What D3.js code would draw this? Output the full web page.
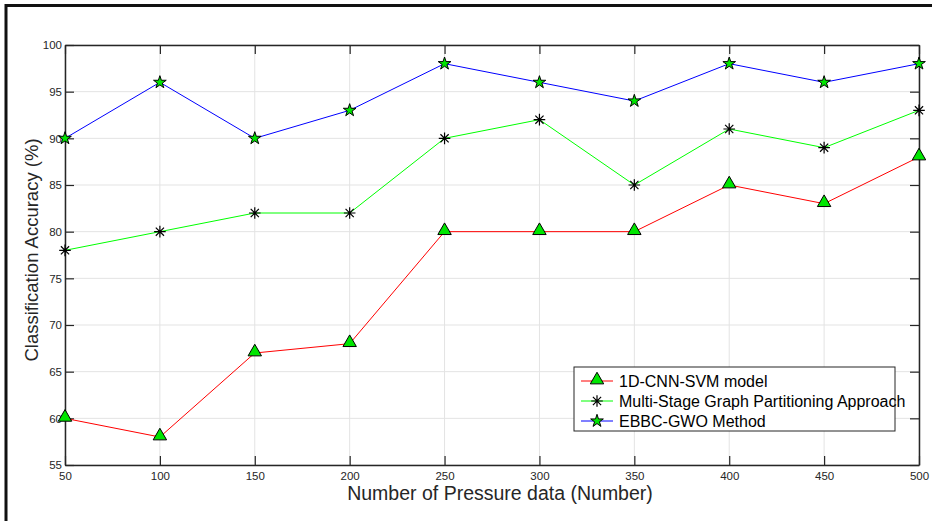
<!DOCTYPE html>
<html>
<head>
<meta charset="utf-8">
<script src="https://cdn.jsdelivr.net/npm/d3@7"></script>
<style>
  body { margin: 0; background: #fff; }
  text { font-family: "Liberation Sans", Arial, sans-serif; }
</style>
</head>
<body>
<script>
// data
var pressure = [50, 100, 150, 200, 250, 300, 350, 400, 450, 500];
var cnnSvm   = [60, 58, 67, 68, 80, 80, 80, 85, 83, 88];
var msgp     = [78, 80, 82, 82, 90, 92, 85, 91, 89, 93];
var ebbcGwo  = [90, 96, 90, 93, 98, 96, 94, 98, 96, 98];
var yTicks = [55, 60, 65, 70, 75, 80, 85, 90, 95, 100];
var seriesNames = ["1D-CNN-SVM model", "Multi-Stage Graph Partitioning Approach", "EBBC-GWO Method"];

var width = 932, height = 521;
var m = { left: 65, top: 45, right: 919, bottom: 465 };

var svg = d3.select('body').append('svg').attr('width', width).attr('height', height);
svg.append('rect').attr('width', width).attr('height', height).attr('fill', '#fff');

// picture frame (left + top)
svg.append('path').attr('d', 'M6,521 V5.5 H932').attr('fill', 'none').attr('stroke', '#111').attr('stroke-width', 3);

var x = d3.scaleLinear().domain([50, 500]).range([m.left, m.right]);
var y = d3.scaleLinear().domain([55, 100]).range([m.bottom, m.top]);

// grid
var g = svg.append('g');
g.selectAll('.gx').data(pressure).enter().append('line')
  .attr('x1', d => x(d)).attr('x2', d => x(d)).attr('y1', m.top).attr('y2', m.bottom)
  .attr('stroke', '#e3e3e3').attr('stroke-width', 1);
g.selectAll('.gy').data(yTicks).enter().append('line')
  .attr('y1', d => y(d)).attr('y2', d => y(d)).attr('x1', m.left).attr('x2', m.right)
  .attr('stroke', '#e3e3e3').attr('stroke-width', 1);

// axes (ticks inward, on all four sides)
var axB = svg.append('g').attr('transform', 'translate(0,' + m.bottom + ')')
  .call(d3.axisBottom(x).tickValues(pressure).tickSizeInner(-9).tickSizeOuter(0).tickPadding(7));
var axT = svg.append('g').attr('transform', 'translate(0,' + m.top + ')')
  .call(d3.axisTop(x).tickValues(pressure).tickSizeInner(-9).tickSizeOuter(0).tickFormat(''));
var axL = svg.append('g').attr('transform', 'translate(' + m.left + ',0)')
  .call(d3.axisLeft(y).tickValues(yTicks).tickSizeInner(-9).tickSizeOuter(0).tickPadding(3));
var axR = svg.append('g').attr('transform', 'translate(' + m.right + ',0)')
  .call(d3.axisRight(y).tickValues(yTicks).tickSizeInner(-9).tickSizeOuter(0).tickFormat(''));
[axB, axT, axL, axR].forEach(function(a) {
  a.select('.domain').attr('stroke', '#262626').attr('stroke-width', 1.5);
  a.selectAll('.tick line').attr('stroke', '#262626').attr('stroke-width', 1.2);
  a.selectAll('.tick text').attr('fill', '#262626').style('font-size', '11.5px')
   .style('font-family', '"Liberation Sans", Arial, sans-serif');
});

// axis titles
svg.append('text').attr('x', 500).attr('y', 500).attr('text-anchor', 'middle')
  .style('font-size', '19.5px').attr('fill', '#262626').text('Number of Pressure data (Number)');
svg.append('text').attr('transform', 'translate(38,250) rotate(-90)')
  .attr('text-anchor', 'middle').style('font-size', '18.5px').attr('fill', '#262626')
  .text('Classification Accuracy (%)');

// symbols
var triSym = d3.symbol().type(d3.symbolTriangle).size(78);
var starSym = d3.symbol().type(d3.symbolStar).size(50);
function asterisk(sel) {
  var r = 5.8;
  var d = '';
  [0, 45, 90, 135].forEach(function(a) {
    var rad = a * Math.PI / 180, dx = r * Math.cos(rad), dy = r * Math.sin(rad);
    d += 'M' + (-dx) + ',' + (-dy) + 'L' + dx + ',' + dy;
  });
  sel.append('path').attr('d', d).attr('stroke', '#000').attr('stroke-width', 1.2).attr('fill', 'none');
}
function drawMarker(sel, kind) {
  if (kind === 0) sel.append('path').attr('d', triSym()).attr('transform', 'translate(0,-1)')
    .attr('fill', '#00e600').attr('stroke', '#000').attr('stroke-width', 1);
  else if (kind === 1) asterisk(sel);
  else sel.append('path').attr('d', starSym()).attr('fill', '#00e600').attr('stroke', '#000').attr('stroke-width', 1);
}

var series = [
  { vals: cnnSvm, color: '#ff0000' },
  { vals: msgp, color: '#00ff00' },
  { vals: ebbcGwo, color: '#0000ff' }
];
var line = d3.line().x(function(d) { return x(d.p); }).y(function(d) { return y(d.v); });

series.forEach(function(s, k) {
  var pts = pressure.map(function(p, i) { return { p: p, v: s.vals[i] }; });
  svg.append('path').attr('d', line(pts)).attr('fill', 'none').attr('stroke', s.color).attr('stroke-width', 1);
  svg.selectAll('.mk' + k).data(pts).enter().append('g')
    .attr('transform', function(d) { return 'translate(' + x(d.p) + ',' + y(d.v) + ')'; })
    .each(function() { drawMarker(d3.select(this), k); });
});

// legend
var lg = svg.append('g').attr('transform', 'translate(574,367)');
lg.append('rect').attr('width', 321).attr('height', 64).attr('fill', '#fff')
  .attr('stroke', '#262626').attr('stroke-width', 1);
seriesNames.forEach(function(name, k) {
  var row = lg.append('g').attr('transform', 'translate(0,' + (14 + k * 20) + ')');
  row.append('line').attr('x1', 7).attr('x2', 39).attr('y1', 0).attr('y2', 0)
    .attr('stroke', series[k].color).attr('stroke-width', 1);
  var mk = row.append('g').attr('transform', 'translate(23,0)');
  drawMarker(mk, k);
  row.append('text').attr('x', 45).attr('y', 5.5).style('font-size', '16px').attr('fill', '#000').text(name);
});
</script>
</body>
</html>
